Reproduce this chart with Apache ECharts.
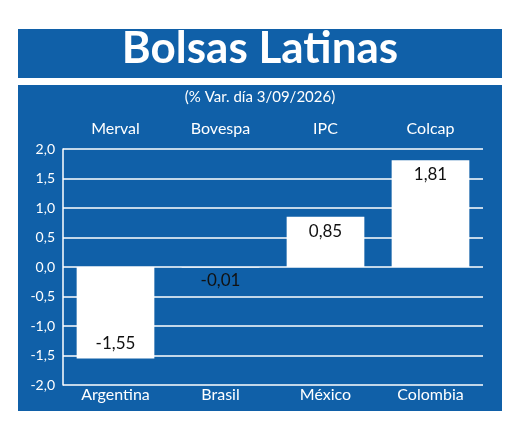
<!DOCTYPE html>
<html><head><meta charset="utf-8">
<script src="https://cdn.jsdelivr.net/npm/echarts@6/dist/echarts.min.js"></script>
<style>html,body{margin:0;padding:0;background:#fff}#c{width:520px;height:442px}</style>
</head><body><div id="c"></div>
<script>
const countries = ['Argentina','Brasil','México','Colombia'];
const indices = ['Merval','Bovespa','IPC','Colcap'];
const values = [-1.55,-0.01,0.85,1.81];
const labels = ['-1,55','-0,01','0,85','1,81'];
const yTicks = [-2,-1.5,-1,-0.5,0,0.5,1,1.5,2];
const blue = '#1060a8';
const fmt = v => v.toFixed(1).replace('.',',');
const chart = echarts.init(document.getElementById('c'));
chart.setOption({
  animation:false,
  backgroundColor:'#fff',
  graphic:[
    {type:'rect',shape:{x:18,y:29,width:484,height:49},style:{fill:blue},z:-10},
    {type:'rect',shape:{x:18,y:85,width:484,height:326},style:{fill:blue},z:-10},
    {type:'text',left:'center',top:27,style:{text:'Bolsas Latinas',fill:'#fff',font:'bold 44px Lato'},z:10},
    {type:'text',left:'center',top:90,style:{text:'(% Var. día 3/09/2026)',fill:'#fff',font:'15px Lato'},z:10}
  ],
  grid:{left:63,right:37,top:149,bottom:57},
  xAxis:[
    {type:'category',data:countries,position:'bottom',axisLine:{show:false},axisTick:{show:false},
     axisLabel:{color:'#fff',fontSize:16,fontFamily:'Lato',margin:2}},
    {type:'category',data:indices,position:'top',axisLine:{show:false},axisTick:{show:false},
     axisLabel:{color:'#fff',fontSize:16,fontFamily:'Lato',margin:12}}
  ],
  yAxis:{type:'value',min:-2,max:2,interval:0.5,
    axisLine:{show:true,lineStyle:{color:'#fff',width:1.5}},axisTick:{show:false},
    splitLine:{lineStyle:{color:'#fff',width:1.5}},
    axisLabel:{color:'#fff',fontSize:14,fontFamily:'Lato',margin:8,formatter:v=>fmt(v)}},
  series:[{type:'bar',data:values.map((v,i)=>({value:v,label:{
      show:true,formatter:labels[i],color:'#111',fontSize:17,fontFamily:'Lato',
      position: v>=0.1 ? 'insideTop' : (v<=-0.1 ? 'insideBottom' : 'bottom'),distance:v>-0.1&&v<0.1?4:6}})),
    barWidth:'74%',itemStyle:{color:'#fff'}}]
});
</script></body></html>
